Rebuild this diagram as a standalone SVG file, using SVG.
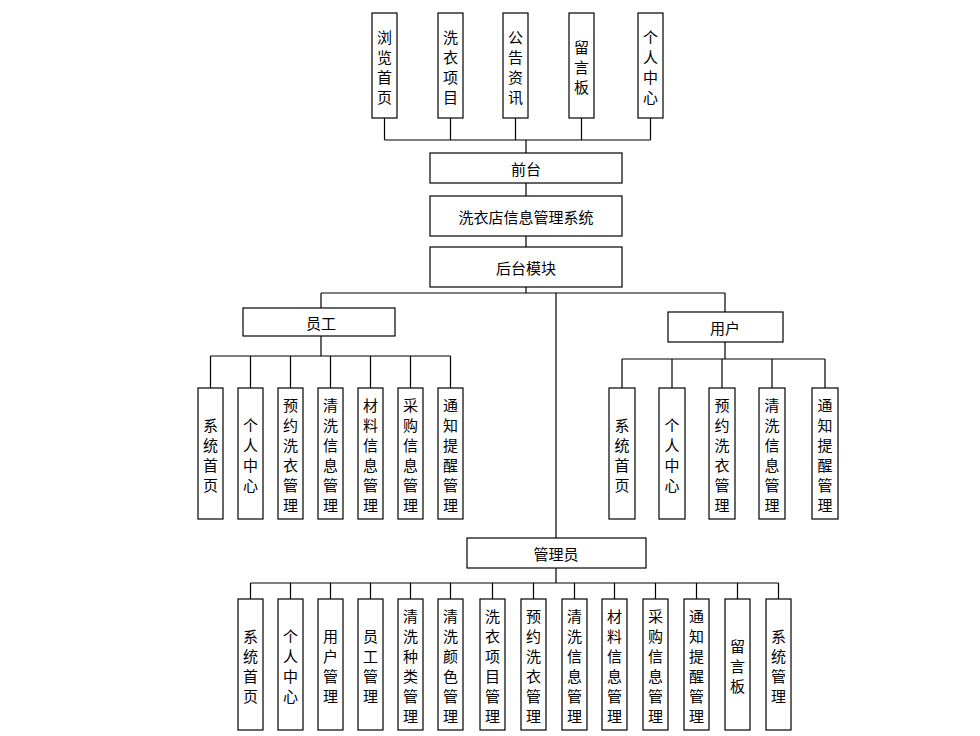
<svg xmlns="http://www.w3.org/2000/svg" width="980" height="736" viewBox="0 0 980 736">
<style>
rect{fill:#fff;stroke:#000;stroke-width:1.2}
text{font-family:"Noto Sans CJK SC","Noto Sans",sans-serif;font-size:15px;fill:#000;text-anchor:middle;dominant-baseline:central}
#connectors path{fill:none;stroke:#000;stroke-width:1.2}
</style>
<rect x="0" y="0" width="980" height="736" style="stroke:none"/>
<g id="connectors">
<path d="M384.5 118V140M450.5 118V140M515.5 118V140M581.5 118V140M650.5 118V140M384.5 140H650.5M526 140V153"/>
<path d="M526 183V196M526 236V247M526 287V293M321 293H725M321 293V308M725 293V312M556 293V538"/>
<path d="M321 336V356M210.5 356H450.5M210.5 356V388M250.5 356V388M290.5 356V388M330.5 356V388M370.5 356V388M410.5 356V388M450.5 356V388"/>
<path d="M725 342V359M622 359H825M622 359V388M672 359V388M722 359V388M772 359V388M825 359V388"/>
<path d="M556 568V583M250.5 583H778.5M250.5 583V599M290.5 583V599M330.5 583V599M370.5 583V599M410.5 583V599M450.5 583V599M492.5 583V599M533.5 583V599M574.5 583V599M614.5 583V599M655.5 583V599M696.5 583V599M737.5 583V599M778.5 583V599"/>
</g>
<g id="top-browse"><rect x="372" y="13" width="25" height="105"/><text x="384.5" y="35.5"><tspan x="384.5">浏</tspan><tspan x="384.5" dy="20">览</tspan><tspan x="384.5" dy="20">首</tspan><tspan x="384.5" dy="20">页</tspan></text></g>
<g id="top-items"><rect x="438" y="13" width="25" height="105"/><text x="450.5" y="35.5"><tspan x="450.5">洗</tspan><tspan x="450.5" dy="20">衣</tspan><tspan x="450.5" dy="20">项</tspan><tspan x="450.5" dy="20">目</tspan></text></g>
<g id="top-news"><rect x="503" y="13" width="25" height="105"/><text x="515.5" y="35.5"><tspan x="515.5">公</tspan><tspan x="515.5" dy="20">告</tspan><tspan x="515.5" dy="20">资</tspan><tspan x="515.5" dy="20">讯</tspan></text></g>
<g id="top-msg"><rect x="569" y="13" width="25" height="105"/><text x="581.5" y="45.5"><tspan x="581.5">留</tspan><tspan x="581.5" dy="20">言</tspan><tspan x="581.5" dy="20">板</tspan></text></g>
<g id="top-personal"><rect x="638" y="13" width="25" height="105"/><text x="650.5" y="35.5"><tspan x="650.5">个</tspan><tspan x="650.5" dy="20">人</tspan><tspan x="650.5" dy="20">中</tspan><tspan x="650.5" dy="20">心</tspan></text></g>
<g id="frontend"><rect x="430" y="153" width="192" height="30"/><text x="526" y="168">前台</text></g>
<g id="system"><rect x="430" y="196" width="192" height="40"/><text x="526" y="216">洗衣店信息管理系统</text></g>
<g id="backend"><rect x="430" y="247" width="192" height="40"/><text x="526" y="267">后台模块</text></g>
<g id="staff"><rect x="243" y="308" width="152" height="28"/><text x="321" y="322">员工</text></g>
<g id="user"><rect x="668" y="312" width="115" height="30"/><text x="725" y="327">用户</text></g>
<g id="admin"><rect x="467" y="538" width="179" height="30"/><text x="556" y="553">管理员</text></g>
<g id="s1"><rect x="198" y="388" width="25" height="131"/><text x="210.5" y="423.5"><tspan x="210.5">系</tspan><tspan x="210.5" dy="20">统</tspan><tspan x="210.5" dy="20">首</tspan><tspan x="210.5" dy="20">页</tspan></text></g>
<g id="s2"><rect x="238" y="388" width="25" height="131"/><text x="250.5" y="423.5"><tspan x="250.5">个</tspan><tspan x="250.5" dy="20">人</tspan><tspan x="250.5" dy="20">中</tspan><tspan x="250.5" dy="20">心</tspan></text></g>
<g id="s3"><rect x="278" y="388" width="25" height="131"/><text x="290.5" y="403.5"><tspan x="290.5">预</tspan><tspan x="290.5" dy="20">约</tspan><tspan x="290.5" dy="20">洗</tspan><tspan x="290.5" dy="20">衣</tspan><tspan x="290.5" dy="20">管</tspan><tspan x="290.5" dy="20">理</tspan></text></g>
<g id="s4"><rect x="318" y="388" width="25" height="131"/><text x="330.5" y="403.5"><tspan x="330.5">清</tspan><tspan x="330.5" dy="20">洗</tspan><tspan x="330.5" dy="20">信</tspan><tspan x="330.5" dy="20">息</tspan><tspan x="330.5" dy="20">管</tspan><tspan x="330.5" dy="20">理</tspan></text></g>
<g id="s5"><rect x="358" y="388" width="25" height="131"/><text x="370.5" y="403.5"><tspan x="370.5">材</tspan><tspan x="370.5" dy="20">料</tspan><tspan x="370.5" dy="20">信</tspan><tspan x="370.5" dy="20">息</tspan><tspan x="370.5" dy="20">管</tspan><tspan x="370.5" dy="20">理</tspan></text></g>
<g id="s6"><rect x="398" y="388" width="25" height="131"/><text x="410.5" y="403.5"><tspan x="410.5">采</tspan><tspan x="410.5" dy="20">购</tspan><tspan x="410.5" dy="20">信</tspan><tspan x="410.5" dy="20">息</tspan><tspan x="410.5" dy="20">管</tspan><tspan x="410.5" dy="20">理</tspan></text></g>
<g id="s7"><rect x="438" y="388" width="25" height="131"/><text x="450.5" y="403.5"><tspan x="450.5">通</tspan><tspan x="450.5" dy="20">知</tspan><tspan x="450.5" dy="20">提</tspan><tspan x="450.5" dy="20">醒</tspan><tspan x="450.5" dy="20">管</tspan><tspan x="450.5" dy="20">理</tspan></text></g>
<g id="u1"><rect x="609" y="388" width="26" height="131"/><text x="622" y="423.5"><tspan x="622">系</tspan><tspan x="622" dy="20">统</tspan><tspan x="622" dy="20">首</tspan><tspan x="622" dy="20">页</tspan></text></g>
<g id="u2"><rect x="659" y="388" width="26" height="131"/><text x="672" y="423.5"><tspan x="672">个</tspan><tspan x="672" dy="20">人</tspan><tspan x="672" dy="20">中</tspan><tspan x="672" dy="20">心</tspan></text></g>
<g id="u3"><rect x="709" y="388" width="26" height="131"/><text x="722" y="403.5"><tspan x="722">预</tspan><tspan x="722" dy="20">约</tspan><tspan x="722" dy="20">洗</tspan><tspan x="722" dy="20">衣</tspan><tspan x="722" dy="20">管</tspan><tspan x="722" dy="20">理</tspan></text></g>
<g id="u4"><rect x="759" y="388" width="26" height="131"/><text x="772" y="403.5"><tspan x="772">清</tspan><tspan x="772" dy="20">洗</tspan><tspan x="772" dy="20">信</tspan><tspan x="772" dy="20">息</tspan><tspan x="772" dy="20">管</tspan><tspan x="772" dy="20">理</tspan></text></g>
<g id="u5"><rect x="812" y="388" width="26" height="131"/><text x="825" y="403.5"><tspan x="825">通</tspan><tspan x="825" dy="20">知</tspan><tspan x="825" dy="20">提</tspan><tspan x="825" dy="20">醒</tspan><tspan x="825" dy="20">管</tspan><tspan x="825" dy="20">理</tspan></text></g>
<g id="a1"><rect x="238" y="599" width="25" height="131"/><text x="250.5" y="634.5"><tspan x="250.5">系</tspan><tspan x="250.5" dy="20">统</tspan><tspan x="250.5" dy="20">首</tspan><tspan x="250.5" dy="20">页</tspan></text></g>
<g id="a2"><rect x="278" y="599" width="25" height="131"/><text x="290.5" y="634.5"><tspan x="290.5">个</tspan><tspan x="290.5" dy="20">人</tspan><tspan x="290.5" dy="20">中</tspan><tspan x="290.5" dy="20">心</tspan></text></g>
<g id="a3"><rect x="318" y="599" width="25" height="131"/><text x="330.5" y="634.5"><tspan x="330.5">用</tspan><tspan x="330.5" dy="20">户</tspan><tspan x="330.5" dy="20">管</tspan><tspan x="330.5" dy="20">理</tspan></text></g>
<g id="a4"><rect x="358" y="599" width="25" height="131"/><text x="370.5" y="634.5"><tspan x="370.5">员</tspan><tspan x="370.5" dy="20">工</tspan><tspan x="370.5" dy="20">管</tspan><tspan x="370.5" dy="20">理</tspan></text></g>
<g id="a5"><rect x="398" y="599" width="25" height="131"/><text x="410.5" y="614.5"><tspan x="410.5">清</tspan><tspan x="410.5" dy="20">洗</tspan><tspan x="410.5" dy="20">种</tspan><tspan x="410.5" dy="20">类</tspan><tspan x="410.5" dy="20">管</tspan><tspan x="410.5" dy="20">理</tspan></text></g>
<g id="a6"><rect x="438" y="599" width="25" height="131"/><text x="450.5" y="614.5"><tspan x="450.5">清</tspan><tspan x="450.5" dy="20">洗</tspan><tspan x="450.5" dy="20">颜</tspan><tspan x="450.5" dy="20">色</tspan><tspan x="450.5" dy="20">管</tspan><tspan x="450.5" dy="20">理</tspan></text></g>
<g id="a7"><rect x="480" y="599" width="25" height="131"/><text x="492.5" y="614.5"><tspan x="492.5">洗</tspan><tspan x="492.5" dy="20">衣</tspan><tspan x="492.5" dy="20">项</tspan><tspan x="492.5" dy="20">目</tspan><tspan x="492.5" dy="20">管</tspan><tspan x="492.5" dy="20">理</tspan></text></g>
<g id="a8"><rect x="521" y="599" width="25" height="131"/><text x="533.5" y="614.5"><tspan x="533.5">预</tspan><tspan x="533.5" dy="20">约</tspan><tspan x="533.5" dy="20">洗</tspan><tspan x="533.5" dy="20">衣</tspan><tspan x="533.5" dy="20">管</tspan><tspan x="533.5" dy="20">理</tspan></text></g>
<g id="a9"><rect x="562" y="599" width="25" height="131"/><text x="574.5" y="614.5"><tspan x="574.5">清</tspan><tspan x="574.5" dy="20">洗</tspan><tspan x="574.5" dy="20">信</tspan><tspan x="574.5" dy="20">息</tspan><tspan x="574.5" dy="20">管</tspan><tspan x="574.5" dy="20">理</tspan></text></g>
<g id="a10"><rect x="602" y="599" width="25" height="131"/><text x="614.5" y="614.5"><tspan x="614.5">材</tspan><tspan x="614.5" dy="20">料</tspan><tspan x="614.5" dy="20">信</tspan><tspan x="614.5" dy="20">息</tspan><tspan x="614.5" dy="20">管</tspan><tspan x="614.5" dy="20">理</tspan></text></g>
<g id="a11"><rect x="643" y="599" width="25" height="131"/><text x="655.5" y="614.5"><tspan x="655.5">采</tspan><tspan x="655.5" dy="20">购</tspan><tspan x="655.5" dy="20">信</tspan><tspan x="655.5" dy="20">息</tspan><tspan x="655.5" dy="20">管</tspan><tspan x="655.5" dy="20">理</tspan></text></g>
<g id="a12"><rect x="684" y="599" width="25" height="131"/><text x="696.5" y="614.5"><tspan x="696.5">通</tspan><tspan x="696.5" dy="20">知</tspan><tspan x="696.5" dy="20">提</tspan><tspan x="696.5" dy="20">醒</tspan><tspan x="696.5" dy="20">管</tspan><tspan x="696.5" dy="20">理</tspan></text></g>
<g id="a13"><rect x="725" y="599" width="25" height="131"/><text x="737.5" y="644.5"><tspan x="737.5">留</tspan><tspan x="737.5" dy="20">言</tspan><tspan x="737.5" dy="20">板</tspan></text></g>
<g id="a14"><rect x="766" y="599" width="25" height="131"/><text x="778.5" y="634.5"><tspan x="778.5">系</tspan><tspan x="778.5" dy="20">统</tspan><tspan x="778.5" dy="20">管</tspan><tspan x="778.5" dy="20">理</tspan></text></g>
</svg>
